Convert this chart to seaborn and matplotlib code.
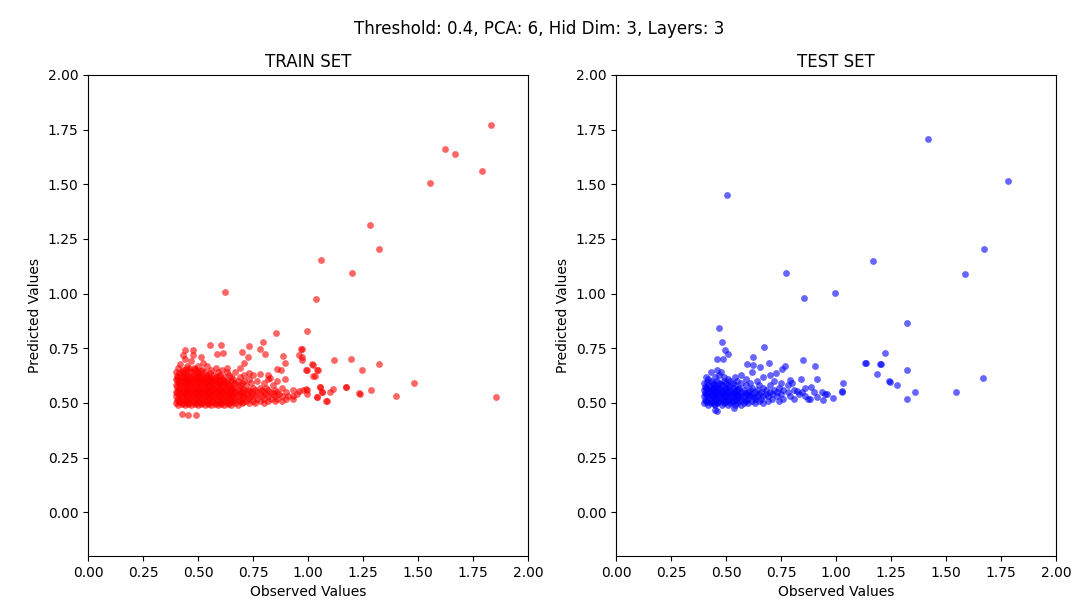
import numpy as np
import pandas as pd
import matplotlib
matplotlib.use("Agg")
import matplotlib.pyplot as plt
import seaborn as sns

# ---------------- TRAIN data ----------------
# dense cluster: one observed value per column, list of predicted values
train_col_obs = [0.40, 0.41, 0.42, 0.43, 0.44, 0.45, 0.46, 0.47, 0.48, 0.49,
                 0.50, 0.51, 0.52, 0.53, 0.54, 0.55, 0.56, 0.57, 0.58, 0.59,
                 0.60, 0.61, 0.62, 0.63, 0.64, 0.65, 0.66, 0.67, 0.68, 0.69,
                 0.70, 0.71, 0.72, 0.73, 0.74, 0.75, 0.76, 0.77, 0.78, 0.79,
                 0.80, 0.81, 0.82, 0.83, 0.84, 0.85, 0.86, 0.87, 0.88, 0.90,
                 0.91, 0.93, 0.95]
train_col_pred = [
    [0.50, 0.53, 0.55, 0.58, 0.61, 0.64],
    [0.49, 0.52, 0.56, 0.59, 0.62, 0.66],
    [0.51, 0.54, 0.57, 0.60, 0.63, 0.68],
    [0.50, 0.53, 0.55, 0.58, 0.62, 0.65, 0.72],
    [0.49, 0.52, 0.56, 0.59, 0.61, 0.64, 0.70],
    [0.51, 0.54, 0.57, 0.60, 0.63, 0.67],
    [0.50, 0.52, 0.55, 0.58, 0.62, 0.66],
    [0.49, 0.53, 0.56, 0.59, 0.61, 0.64, 0.69],
    [0.51, 0.54, 0.57, 0.60, 0.63, 0.66],
    [0.50, 0.52, 0.55, 0.58, 0.62, 0.65],
    [0.49, 0.53, 0.56, 0.59, 0.61, 0.64, 0.67],
    [0.51, 0.54, 0.57, 0.60, 0.63],
    [0.50, 0.52, 0.55, 0.58, 0.62, 0.65],
    [0.49, 0.53, 0.56, 0.59, 0.61, 0.64],
    [0.51, 0.54, 0.57, 0.60, 0.63, 0.67],
    [0.50, 0.52, 0.55, 0.58, 0.62],
    [0.49, 0.53, 0.56, 0.59, 0.61, 0.65],
    [0.51, 0.54, 0.57, 0.60, 0.63],
    [0.50, 0.52, 0.55, 0.58, 0.62, 0.66],
    [0.49, 0.53, 0.56, 0.59, 0.64],
    [0.51, 0.54, 0.57, 0.60, 0.63],
    [0.50, 0.52, 0.55, 0.58, 0.61, 0.65],
    [0.49, 0.53, 0.56, 0.59, 0.62],
    [0.51, 0.54, 0.57, 0.60, 0.64],
    [0.50, 0.52, 0.55, 0.58, 0.63],
    [0.49, 0.53, 0.56, 0.60, 0.62],
    [0.51, 0.54, 0.57, 0.61],
    [0.50, 0.52, 0.55, 0.59, 0.64],
    [0.49, 0.53, 0.56, 0.60],
    [0.51, 0.54, 0.58, 0.62],
    [0.50, 0.52, 0.55, 0.59],
    [0.53, 0.56, 0.60, 0.63],
    [0.51, 0.54, 0.58],
    [0.50, 0.52, 0.56, 0.61],
    [0.53, 0.55, 0.59],
    [0.51, 0.54, 0.57, 0.63],
    [0.50, 0.53, 0.56],
    [0.52, 0.55, 0.60],
    [0.51, 0.54, 0.57],
    [0.53, 0.56],
    [0.50, 0.52, 0.55, 0.59],
    [0.54, 0.57],
    [0.51, 0.53, 0.56, 0.61],
    [0.52, 0.55],
    [0.54, 0.58],
    [0.51, 0.53, 0.56],
    [0.52, 0.55, 0.60],
    [0.54],
    [0.51, 0.53, 0.57],
    [0.52, 0.55],
    [0.53],
    [0.52, 0.56],
    [0.54],
]
# in-between columns filling the dense core
train_fill_obs = [0.405, 0.415, 0.425, 0.435, 0.445, 0.455, 0.465, 0.475, 0.485,
                  0.495, 0.505, 0.515, 0.525, 0.535, 0.545, 0.555, 0.565, 0.575,
                  0.585, 0.595, 0.605, 0.615, 0.625, 0.635, 0.645, 0.655, 0.665,
                  0.685, 0.705, 0.725]
train_fill_pred = [
    [0.515, 0.545, 0.575, 0.605, 0.625],
    [0.505, 0.535, 0.565, 0.595, 0.635],
    [0.495, 0.525, 0.555, 0.585, 0.615, 0.645],
    [0.515, 0.545, 0.575, 0.605, 0.635],
    [0.505, 0.535, 0.565, 0.595, 0.625, 0.655],
    [0.495, 0.525, 0.555, 0.585, 0.615],
    [0.515, 0.545, 0.575, 0.605, 0.645],
    [0.505, 0.535, 0.565, 0.595, 0.625],
    [0.495, 0.525, 0.555, 0.585, 0.615, 0.655],
    [0.515, 0.545, 0.575, 0.605, 0.635],
    [0.505, 0.535, 0.565, 0.595, 0.625],
    [0.495, 0.525, 0.555, 0.585, 0.615, 0.645],
    [0.515, 0.545, 0.575, 0.605],
    [0.505, 0.535, 0.565, 0.595, 0.625],
    [0.495, 0.525, 0.555, 0.585, 0.615],
    [0.515, 0.545, 0.575, 0.605, 0.635],
    [0.505, 0.535, 0.565, 0.595],
    [0.495, 0.525, 0.555, 0.585, 0.615],
    [0.515, 0.545, 0.575, 0.605],
    [0.505, 0.535, 0.565, 0.595, 0.625],
    [0.495, 0.525, 0.555, 0.585],
    [0.515, 0.545, 0.575, 0.605],
    [0.505, 0.535, 0.565, 0.595],
    [0.495, 0.525, 0.555, 0.585],
    [0.515, 0.545, 0.575],
    [0.505, 0.535, 0.565],
    [0.525, 0.555, 0.585],
    [0.515, 0.545, 0.575],
    [0.505, 0.535, 0.565],
    [0.525, 0.555],
]
# scattered train points
train_obs = [1.832, 1.621, 1.667, 1.791, 1.555, 1.282, 1.321, 1.061, 1.201, 1.036,
             0.997, 0.971, 0.971, 0.971, 1.117, 1.195, 1.321, 1.247, 1.021, 0.991,
             1.047, 1.032, 1.480, 1.174, 1.055, 0.979, 0.997, 1.064, 1.100, 1.286,
             1.236, 0.997, 1.042, 1.400, 1.082, 1.855, 0.623, 0.856, 0.556, 0.606,
             0.441, 0.476, 0.732, 0.794, 0.782, 0.806, 0.701, 0.585, 0.615, 0.970,
             0.960, 0.886, 0.895, 0.727, 0.709, 0.479, 0.515, 0.524, 1.020, 1.040,
             0.994, 0.858, 0.876, 1.024, 0.895, 0.782, 0.817, 0.827, 0.733, 0.691,
             0.630, 1.171, 1.233, 1.112, 1.055, 1.065, 1.085, 1.040, 0.989, 0.961,
             0.933, 0.426, 0.456, 0.491]
train_pred = [1.770, 1.661, 1.638, 1.559, 1.507, 1.312, 1.204, 1.152, 1.095, 0.975,
              0.827, 0.748, 0.709, 0.695, 0.696, 0.702, 0.677, 0.650, 0.673, 0.650,
              0.650, 0.622, 0.592, 0.571, 0.571, 0.561, 0.558, 0.549, 0.552, 0.558,
              0.541, 0.540, 0.525, 0.531, 0.507, 0.525, 1.008, 0.821, 0.764, 0.764,
              0.741, 0.741, 0.760, 0.781, 0.746, 0.723, 0.735, 0.726, 0.729, 0.748,
              0.720, 0.714, 0.685, 0.708, 0.683, 0.720, 0.708, 0.683, 0.676, 0.650,
              0.650, 0.657, 0.650, 0.622, 0.609, 0.632, 0.630, 0.612, 0.635, 0.658,
              0.658, 0.571, 0.546, 0.566, 0.573, 0.551, 0.508, 0.525, 0.563, 0.554,
              0.531, 0.449, 0.447, 0.444]

# ---------------- TEST data ----------------
test_col_obs = [0.40, 0.41, 0.42, 0.43, 0.44, 0.45, 0.46, 0.47, 0.48, 0.49,
                0.50, 0.51, 0.52, 0.53, 0.54, 0.55, 0.56, 0.57, 0.58, 0.59,
                0.60, 0.61, 0.62, 0.63, 0.64, 0.65, 0.66, 0.67, 0.68, 0.69,
                0.70, 0.71, 0.72, 0.73, 0.74, 0.75, 0.76, 0.78, 0.79, 0.81,
                0.83, 0.86, 0.88, 0.90]
test_col_pred = [
    [0.50, 0.53, 0.56, 0.59],
    [0.51, 0.54, 0.57, 0.62],
    [0.49, 0.52, 0.55, 0.58, 0.61],
    [0.50, 0.53, 0.56, 0.60, 0.64],
    [0.51, 0.54, 0.57, 0.59],
    [0.49, 0.52, 0.55, 0.58, 0.62],
    [0.50, 0.53, 0.56, 0.60],
    [0.51, 0.54, 0.57, 0.59, 0.63],
    [0.49, 0.52, 0.55, 0.58],
    [0.50, 0.53, 0.56, 0.60, 0.62],
    [0.51, 0.54, 0.57, 0.59],
    [0.49, 0.52, 0.55, 0.58, 0.61],
    [0.50, 0.53, 0.56, 0.60],
    [0.51, 0.54, 0.57, 0.59],
    [0.49, 0.52, 0.55, 0.58, 0.62],
    [0.50, 0.53, 0.56, 0.60],
    [0.51, 0.54, 0.57],
    [0.49, 0.52, 0.55, 0.59, 0.63],
    [0.50, 0.53, 0.56],
    [0.51, 0.54, 0.58, 0.61],
    [0.50, 0.52, 0.55],
    [0.53, 0.56, 0.59],
    [0.51, 0.54, 0.57, 0.64],
    [0.50, 0.52, 0.55],
    [0.53, 0.56, 0.60],
    [0.51, 0.54, 0.58],
    [0.52, 0.55],
    [0.50, 0.53, 0.57, 0.62],
    [0.54, 0.56],
    [0.51, 0.53],
    [0.55, 0.58, 0.63],
    [0.52, 0.54],
    [0.56, 0.60],
    [0.53, 0.55],
    [0.51, 0.57],
    [0.54, 0.59],
    [0.52, 0.56],
    [0.55, 0.58],
    [0.53],
    [0.56, 0.52],
    [0.54],
    [0.53, 0.57],
    [0.52],
    [0.55],
]
test_fill_obs = [0.405, 0.415, 0.425, 0.435, 0.445, 0.455, 0.465, 0.475, 0.485,
                 0.495, 0.505, 0.515, 0.525, 0.535, 0.545, 0.555, 0.565, 0.585,
                 0.605, 0.625]
test_fill_pred = [
    [0.515, 0.545, 0.575],
    [0.505, 0.535, 0.565, 0.595],
    [0.515, 0.545, 0.575],
    [0.505, 0.535, 0.565],
    [0.495, 0.525, 0.555, 0.585],
    [0.515, 0.545, 0.575],
    [0.505, 0.535, 0.565],
    [0.525, 0.555, 0.585],
    [0.515, 0.545],
    [0.505, 0.535, 0.565],
    [0.525, 0.555],
    [0.515, 0.545, 0.575],
    [0.505, 0.535],
    [0.525, 0.555],
    [0.515, 0.545],
    [0.535, 0.565],
    [0.525],
    [0.545, 0.515],
    [0.535],
    [0.525],
]
test_obs = [0.505, 0.771, 0.856, 0.997, 1.417, 1.780, 1.673, 1.586, 1.167, 1.321,
            1.224, 1.135, 1.201, 1.185, 1.321, 1.247, 1.276, 1.667, 1.361, 1.547,
            1.321, 1.026, 1.033, 0.985, 0.936, 0.958, 0.942, 0.470, 0.482, 0.494,
            0.509, 0.673, 0.697, 0.621, 0.458, 0.488, 0.594, 0.624, 0.655, 0.460,
            0.476, 0.450, 0.458, 0.538, 0.848, 0.906, 0.770, 0.755, 0.727, 0.912,
            0.840, 1.026, 0.950, 0.912, 0.874, 0.845, 0.821, 0.885, 0.800, 0.791,
            1.130, 1.203, 1.242]
test_pred = [1.449, 1.095, 0.981, 1.004, 1.707, 1.513, 1.204, 1.091, 1.147, 0.866,
             0.729, 0.683, 0.677, 0.632, 0.650, 0.598, 0.581, 0.615, 0.552, 0.552,
             0.519, 0.552, 0.589, 0.523, 0.551, 0.540, 0.513, 0.845, 0.781, 0.741,
             0.726, 0.754, 0.683, 0.711, 0.703, 0.699, 0.680, 0.673, 0.665, 0.653,
             0.642, 0.467, 0.464, 0.479, 0.696, 0.668, 0.668, 0.654, 0.635, 0.609,
             0.609, 0.554, 0.543, 0.525, 0.520, 0.551, 0.554, 0.571, 0.589, 0.604,
             0.685, 0.679, 0.600]

suptitle = "Threshold: 0.4, PCA: 6, Hid Dim: 3, Layers: 3"
panel_titles = ["TRAIN SET", "TEST SET"]
tick_vals = [0.00, 0.25, 0.50, 0.75, 1.00, 1.25, 1.50, 1.75, 2.00]


def expand(col_obs, col_pred):
    xs, ys = [], []
    for x, ylist in zip(col_obs, col_pred):
        for y in ylist:
            xs.append(x)
            ys.append(y)
    return xs, ys


def build(parts, obs, pred):
    xs, ys = [], []
    for col_obs, col_pred in parts:
        a, b = expand(col_obs, col_pred)
        xs += a
        ys += b
    xs += list(obs)
    ys += list(pred)
    return pd.DataFrame({"Observed Values": xs, "Predicted Values": ys})


train_df = build([(train_col_obs, train_col_pred), (train_fill_obs, train_fill_pred)],
                 train_obs, train_pred)
test_df = build([(test_col_obs, test_col_pred), (test_fill_obs, test_fill_pred)],
                test_obs, test_pred)

plt.rcParams['font.family'] = ['DejaVu Sans']
fig = plt.figure(figsize=(10.79, 6.10), dpi=100)
ax1 = fig.add_axes([88 / 1079, 1 - 556 / 610, 440 / 1079, 481 / 610])
ax2 = fig.add_axes([616 / 1079, 1 - 556 / 610, 440 / 1079, 481 / 610])

for ax, df, color, title in [(ax1, train_df, "red", panel_titles[0]),
                             (ax2, test_df, "blue", panel_titles[1])]:
    sns.scatterplot(data=df, x="Observed Values", y="Predicted Values", ax=ax,
                    color=color, alpha=0.6, s=24, linewidth=0)
    ax.set_xlim(0, 2)
    ax.set_ylim(-0.2, 2.0)
    ax.set_xticks(tick_vals)
    ax.set_yticks(tick_vals)
    ax.set_title(title, fontsize=12)
    ax.set_xlabel("Observed Values", fontsize=10)
    ax.set_ylabel("Predicted Values", fontsize=10)

fig.suptitle(suptitle, fontsize=12, y=0.967)
fig.savefig("out.png", dpi=100)
